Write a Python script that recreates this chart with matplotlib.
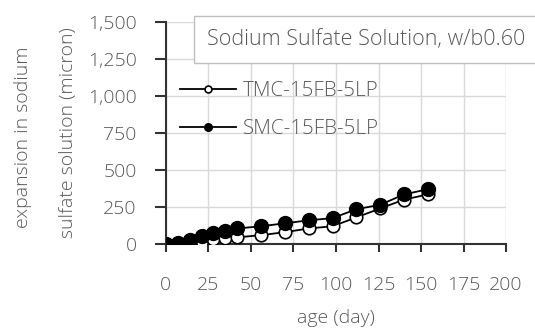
import matplotlib.pyplot as plt

plt.rcParams['font.family'] = ['Open Sans', 'DejaVu Sans']
plt.rcParams['font.weight'] = 'light'

# expansion readings (micron) by age of specimen
days = [0, 7, 14, 21, 28, 35, 42, 56, 70, 84, 98, 112, 126, 140, 154]
tmc = [0, 5, 10, 20, 35, 40, 45, 60, 80, 105, 120, 180, 240, 300, 335]
smc = [0, 10, 25, 55, 75, 85, 105, 120, 140, 160, 175, 235, 265, 335, 370]

x_ticks = [0, 25, 50, 75, 100, 125, 150, 175, 200]
y_ticks = [0, 250, 500, 750, 1000, 1250, 1500]
y_ticklabels = ['0', '250', '500', '750', '1,000', '1,250', '1,500']

text_color = '#595959'
axis_color = '#333333'
fs = 14

fig = plt.figure(figsize=(5.35, 3.32), dpi=100)
ax = fig.add_axes([0.310, 0.265, 0.636, 0.669])

ax.plot(days, tmc, color='black', lw=1.3, marker='o', ms=9,
        mfc='white', mec='black', mew=1.2, label='TMC-15FB-5LP', zorder=3)
ax.plot(days, smc, color='black', lw=1.3, marker='o', ms=10,
        mfc='black', mec='black', label='SMC-15FB-5LP', zorder=4)

ax.set_xlim(0, 200)
ax.set_ylim(0, 1500)
ax.set_xticks(x_ticks)
ax.set_yticks(y_ticks)
ax.set_yticklabels(y_ticklabels)
ax.grid(True, color='#d9d9d9', lw=1)
ax.set_axisbelow(True)

for side in ['top', 'right']:
    ax.spines[side].set_visible(False)
for side in ['left', 'bottom']:
    ax.spines[side].set_color(axis_color)
    ax.spines[side].set_linewidth(1.5)

ax.tick_params(axis='y', direction='out', length=8, width=1.5, color=axis_color,
               labelsize=fs, labelcolor=text_color, pad=13)
ax.tick_params(axis='x', direction='out', length=6, width=1.5, color=axis_color,
               labelsize=fs, labelcolor=text_color, pad=17)

ax.set_xlabel('age (day)', fontsize=fs, color=text_color, labelpad=11,
              fontweight='light')

fig.text(0.043, 0.588, 'expansion in sodium', rotation=90, ha='center',
         va='center', fontsize=fs, color=text_color)
fig.text(0.127, 0.6, 'sulfate solution (micron)', rotation=90, ha='center',
         va='center', fontsize=fs, color=text_color)

# chart title in a framed box
fig.text(0.387, 0.88, 'Sodium Sulfate Solution, w/b0.60', ha='left',
         va='center', fontsize=15.5, color=text_color,
         bbox=dict(boxstyle='square,pad=0.6', fc='white', ec='#bfbfbf', lw=1))

leg = ax.legend(loc='upper left', bbox_to_anchor=(0.322, 0.78),
                bbox_transform=fig.transFigure, frameon=False,
                fontsize=14.8, handlelength=2.7, handletextpad=0.35,
                labelspacing=0.85, markerscale=0.55, borderaxespad=0)
for t in leg.get_texts():
    t.set_color(text_color)

fig.savefig('out.png', dpi=100)
